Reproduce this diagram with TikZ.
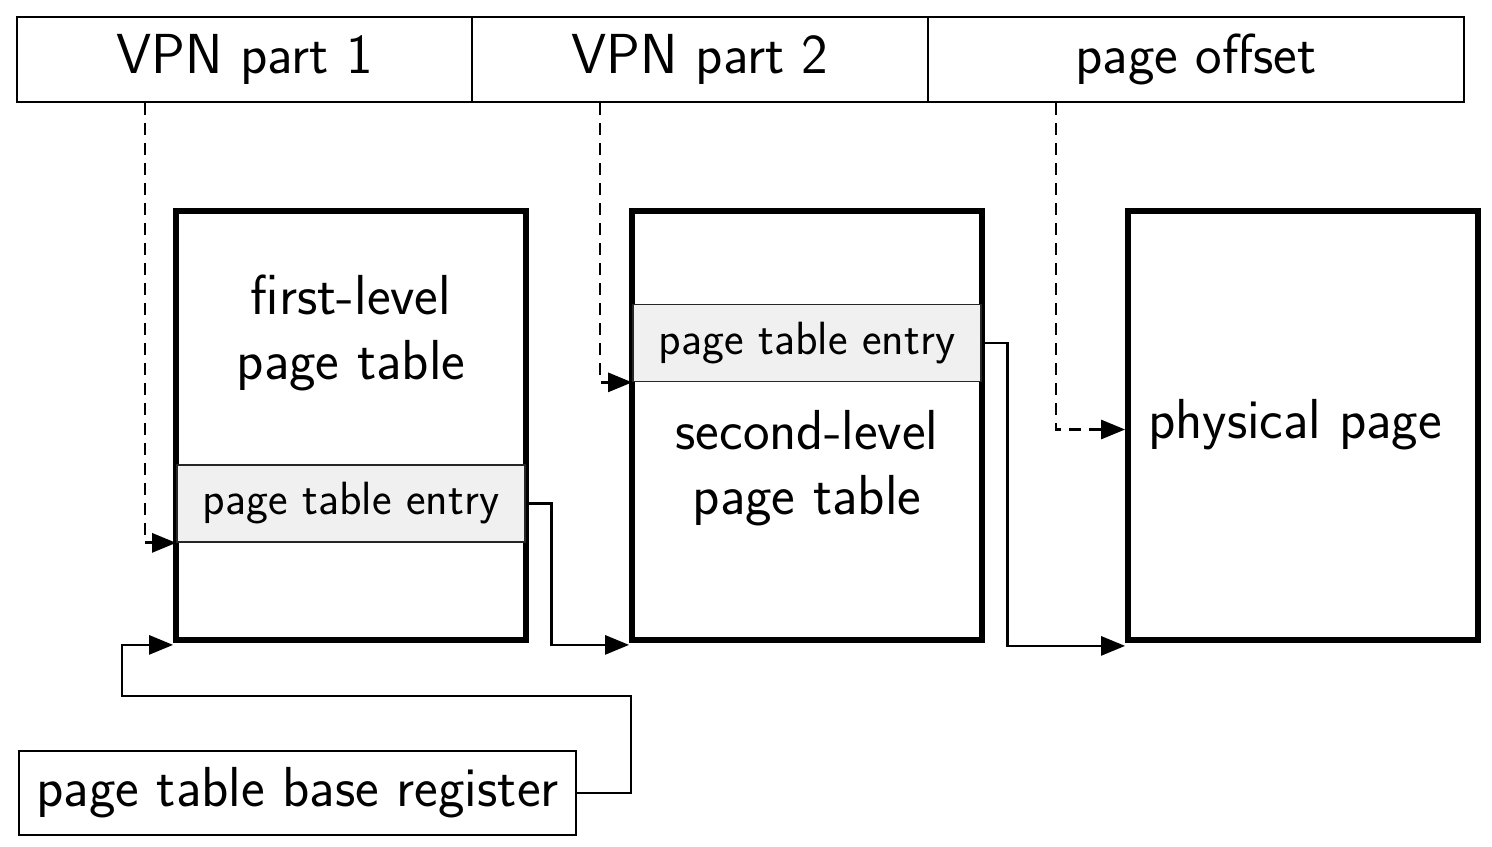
\documentclass[tikz,border=0pt]{standalone}
\usetikzlibrary{arrows.meta}
\definecolor{ptegray}{HTML}{F0F0F0}
\begin{document}
\begin{tikzpicture}[x=0.5pt,y=-0.5pt,
  every node/.style={font=\sffamily\fontsize{28.2}{32.5}\selectfont},
  topbox/.style={draw, line width=0.95pt, minimum height=42.5pt, inner sep=0pt},
  bigbox/.style={draw, line width=2.9pt, minimum width=175pt, minimum height=214.5pt, inner sep=0pt},
  ptebox/.style={draw=black!85, fill=ptegray, line width=0.85pt, minimum width=174pt, minimum height=38.5pt, inner sep=0pt, font=\sffamily\fontsize{23.3}{28}\selectfont},
  lbl/.style={align=center, inner sep=0pt},
  arr/.style={line width=1.4pt, -{Triangle[length=12pt,width=9.5pt]}},
  dasharr/.style={arr, dash pattern=on 6pt off 4pt}]
\useasboundingbox (0,0) rectangle (1492,846);
% top address fields
\node[topbox, minimum width=227.5pt] (vpn1) at (244.5,59.5) {VPN part 1};
\node[topbox, minimum width=228pt] (vpn2) at (700,59.5) {VPN part 2};
\node[topbox, minimum width=268pt] (off) at (1196,59.5) {page offset};
% tables
\node[bigbox] (boxA) at (351,425.5) {};
\node[bigbox] (boxB) at (807,425.5) {};
\node[bigbox] (phys) at (1303,425.5) {};
\node[ptebox] (pteA) at (351,503.5) {page table entry};
\node[ptebox] (pteB) at (807,343) {page table entry};
\node[lbl] (lblA) at (351,333) {first-level\\page table};
\node[lbl] (lblB) at (807,468) {second-level\\page table};
\node[lbl] (lblC) at (1295,425) {physical page};
% register
\node[topbox, minimum width=278.5pt, minimum height=42pt] (ptbr) at (297.5,793) {page table base register};
% dashed index connectors
\draw[dasharr] ([xshift=-49.75pt]vpn1.south) |- (pteA.south west);
\draw[dasharr] ([xshift=-50pt]vpn2.south) |- (pteB.south west);
\draw[dasharr] ([xshift=-70pt]off.south) |- ([yshift=-2pt]phys.west);
% solid pointer connectors
\draw[arr] (pteA.east) -- ++(13pt,0) |- ([yshift=-1pt]boxB.south west);
\draw[arr] (pteB.east) -- ++(13pt,0) |- ([yshift=-1.5pt]phys.south west);
\draw[arr] (ptbr.east) -- ++(27pt,0) -- ++(0,48.5pt) -- ++(-254.5pt,0) |- ([yshift=-1pt]boxA.south west);
\end{tikzpicture}
\end{document}
